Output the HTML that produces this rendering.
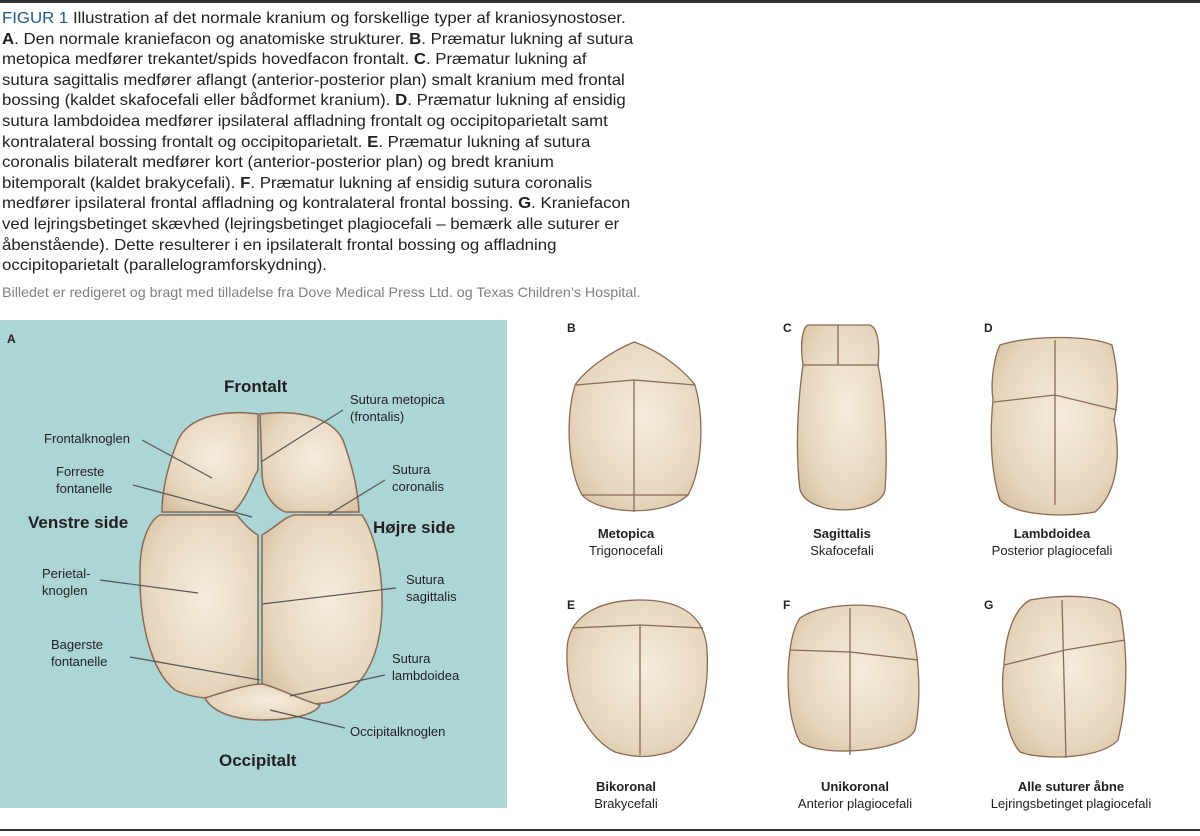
<!DOCTYPE html>
<html><head><meta charset="utf-8"><style>
body{margin:0;width:1200px;height:836px;background:#fff;position:relative;overflow:hidden;font-family:"Liberation Sans",sans-serif;}
.cap{position:absolute;left:2px;top:9px;font-size:16px;line-height:20.6px;color:#231f20;white-space:nowrap;transform:scaleX(1.05);transform-origin:0 0}
.cap b{font-weight:normal;color:#1c5a8c}
.cap i{font-style:normal;font-weight:bold}
.src{position:absolute;left:2px;top:284px;font-size:14px;color:#808080;white-space:nowrap;transform:scaleX(1.02);transform-origin:0 0}
svg{position:absolute;left:0;top:0}
</style></head><body>
<div class="cap"><b>FIGUR 1</b> Illustration af det normale kranium og forskellige typer af kraniosynostoser.<br><i>A</i>. Den normale kraniefacon og anatomiske strukturer. <i>B</i>. Præmatur lukning af sutura<br>metopica medfører trekantet/spids hovedfacon frontalt. <i>C</i>. Præmatur lukning af<br>sutura sagittalis medfører aflangt (anterior-posterior plan) smalt kranium med frontal<br>bossing (kaldet skafocefali eller bådformet kranium). <i>D</i>. Præmatur lukning af ensidig<br>sutura lambdoidea medfører ipsilateral affladning frontalt og occipitoparietalt samt<br>kontralateral bossing frontalt og occipitoparietalt. <i>E</i>. Præmatur lukning af sutura<br>coronalis bilateralt medfører kort (anterior-posterior plan) og bredt kranium<br>bitemporalt (kaldet brakycefali). <i>F</i>. Præmatur lukning af ensidig sutura coronalis<br>medfører ipsilateral frontal affladning og kontralateral frontal bossing. <i>G</i>. Kraniefacon<br>ved lejringsbetinget skævhed (lejringsbetinget plagiocefali – bemærk alle suturer er<br>åbenstående). Dette resulterer i en ipsilateralt frontal bossing og affladning<br>occipitoparietalt (parallelogramforskydning).</div>
<div class="src">Billedet er redigeret og bragt med tilladelse fra Dove Medical Press Ltd. og Texas Children’s Hospital.</div>
<svg width="1200" height="836" viewBox="0 0 1200 836" font-family="Liberation Sans, sans-serif" fill="#231f20">
<defs>
<radialGradient id="bg" cx="0.55" cy="0.45" r="0.7"><stop offset="0" stop-color="#f5ecdc"/><stop offset="0.7" stop-color="#e6d6bd"/><stop offset="1" stop-color="#d4bea0"/></radialGradient>
</defs>
<rect x="0" y="0" width="1200" height="3" fill="#333"/>
<rect x="0" y="829" width="1200" height="2" fill="#333"/>
<rect x="0" y="320" width="507" height="488" fill="#acd5d6"/>
<text x="7" y="343" font-size="12" font-weight="bold">A</text>
<g stroke="#8a6a55" stroke-width="1.5" fill="url(#bg)">
<path d="M258 414 C230 410 190 414 178 440 C168 465 162 490 162 512 L233 512 C245 502 252 480 258 470 Z"/>
<path d="M260 414 C290 410 330 414 343 440 C352 465 358 490 359 512 L285 512 C272 506 262 492 262 472 Z"/>
<path d="M160 515 L237 515 C245 525 252 532 258 535 L258 690 C230 700 200 702 175 690 C150 670 139 620 140 570 C140 540 150 520 160 515 Z"/>
<path d="M262 535 C275 528 285 516 295 515 L362 515 C375 535 383 570 382 610 C380 660 362 690 330 702 C300 708 280 700 262 690 Z"/>
<path d="M205 698 C230 690 250 684 262 684 C275 686 300 700 320 705 C315 715 290 720 262 720 C235 720 212 712 205 698 Z"/>
</g>
<g stroke="#555" stroke-width="1.2">
<line x1="142" y1="440" x2="212" y2="478"/><line x1="343" y1="410" x2="261" y2="462"/>
<line x1="133" y1="485" x2="252" y2="517"/><line x1="385" y1="480" x2="328" y2="515"/>
<line x1="100" y1="580" x2="198" y2="593"/><line x1="396" y1="588" x2="262" y2="604"/>
<line x1="130" y1="657" x2="260" y2="680"/><line x1="385" y1="675" x2="290" y2="696"/>
<line x1="345" y1="728" x2="270" y2="710"/>
</g>
<g font-size="13">
<text x="224" y="392" font-size="17" font-weight="bold">Frontalt</text>
<text x="350" y="404">Sutura metopica</text><text x="350" y="421">(frontalis)</text>
<text x="44" y="443">Frontalknoglen</text>
<text x="56" y="476">Forreste</text><text x="56" y="493">fontanelle</text>
<text x="392" y="474">Sutura</text><text x="392" y="491">coronalis</text>
<text x="28" y="528" font-size="17" font-weight="bold">Venstre side</text>
<text x="373" y="533" font-size="17" font-weight="bold">Højre side</text>
<text x="42" y="578">Perietal-</text><text x="42" y="595">knoglen</text>
<text x="406" y="584">Sutura</text><text x="406" y="601">sagittalis</text>
<text x="51" y="649">Bagerste</text><text x="51" y="666">fontanelle</text>
<text x="392" y="663">Sutura</text><text x="392" y="680">lambdoidea</text>
<text x="350" y="736">Occipitalknoglen</text>
<text x="219" y="766" font-size="17" font-weight="bold">Occipitalt</text>
</g>
<g stroke="#8a6a55" stroke-width="1.3" fill="url(#bg)">
<path d="M634 342 C610 352 585 370 575 385 C565 420 568 470 582 495 C600 515 665 517 688 495 C702 470 705 420 695 385 C682 368 658 350 634 342 Z"/>
<path d="M576 385 L634 380 L695 385 M634 380 L634 512 M582 495 L688 495" fill="none"/>
<path d="M808 325 L870 325 C878 328 880 345 878 365 C885 400 888 450 885 490 C880 515 810 518 800 490 C795 450 798 400 803 365 C800 345 802 328 808 325 Z"/>
<path d="M803 365 L878 365 M838 325 L838 365" fill="none"/>
<path d="M1000 345 C1030 335 1090 335 1112 345 C1120 380 1118 400 1114 420 C1122 460 1115 495 1095 512 C1060 518 1015 515 1000 500 C990 470 990 430 993 400 C990 380 995 355 1000 345 Z"/>
<path d="M994 402 L1055 395 L1117 410 M1055 340 L1055 505" fill="none"/>
<path d="M640 600 C600 600 568 615 567 650 C565 700 590 740 615 752 C635 758 650 758 670 752 C695 740 710 700 707 650 C705 615 680 600 640 600 Z"/>
<path d="M572 628 L640 625 L703 628 M640 625 L640 755" fill="none"/>
<path d="M800 618 C820 603 880 600 905 615 C920 640 922 700 915 730 C905 752 820 758 800 742 C788 720 786 680 790 650 C792 635 795 625 800 618 Z"/>
<path d="M790 650 L850 652 L918 660 M850 608 L850 755" fill="none"/>
<path d="M1030 600 C1070 593 1110 596 1120 610 C1128 650 1128 700 1118 740 C1100 760 1040 760 1020 752 C1005 735 1000 690 1004 665 C1005 640 1012 610 1030 600 Z"/>
<path d="M1004 665 L1065 650 L1125 640 M1062 600 L1066 758" fill="none"/>
</g>
<g font-size="13" text-anchor="middle">
<text x="567" y="332" font-size="12" font-weight="bold" text-anchor="start">B</text>
<text x="783" y="332" font-size="12" font-weight="bold" text-anchor="start">C</text>
<text x="984" y="332" font-size="12" font-weight="bold" text-anchor="start">D</text>
<text x="567" y="609" font-size="12" font-weight="bold" text-anchor="start">E</text>
<text x="783" y="609" font-size="12" font-weight="bold" text-anchor="start">F</text>
<text x="984" y="609" font-size="12" font-weight="bold" text-anchor="start">G</text>
<text x="626" y="538" font-weight="bold">Metopica</text><text x="626" y="555">Trigonocefali</text>
<text x="842" y="538" font-weight="bold">Sagittalis</text><text x="842" y="555">Skafocefali</text>
<text x="1052" y="538" font-weight="bold">Lambdoidea</text><text x="1052" y="555">Posterior plagiocefali</text>
<text x="626" y="791" font-weight="bold">Bikoronal</text><text x="626" y="808">Brakycefali</text>
<text x="855" y="791" font-weight="bold">Unikoronal</text><text x="855" y="808">Anterior plagiocefali</text>
<text x="1071" y="791" font-weight="bold">Alle suturer åbne</text><text x="1071" y="808">Lejringsbetinget plagiocefali</text>
</g>
</svg>
</body></html>
